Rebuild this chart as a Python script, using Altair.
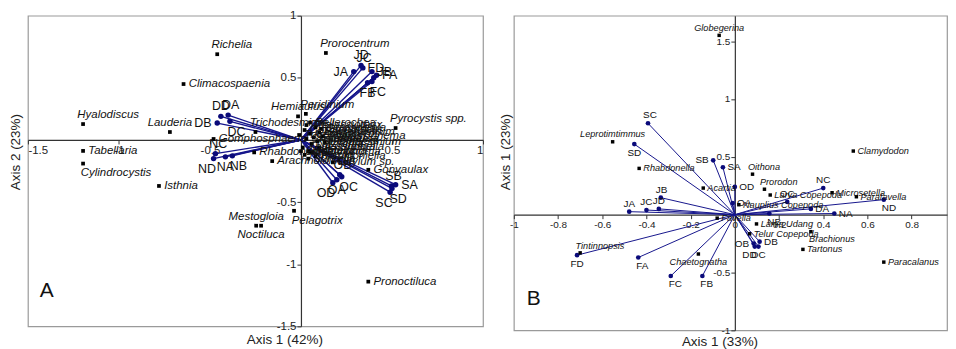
import altair as alt
import pandas as pd

FONT = "Liberation Sans, Arial, Helvetica, sans-serif"
NAVY = "#16168c"
AXC = "#333333"

# ---------------- Panel A : species (x, y, label side) ----------------
a_sp_name = ["Richelia", "Climacospaenia", "Hyalodiscus", "Lauderia", "Tabellaria",
             "Cylindrocystis", "Isthnia", "Mestogloia", "Noctiluca", "Pelagotrix",
             "Pronoctiluca", "Prorocentrum", "Pyrocystis spp.", "Gonyaulax", "Ditylum sp.",
             "Hemiaulus", "Peridinium", "Trichodesmium", "Gomphosphaeria", "Rhabdonema",
             "Arachnoidiscus",
             "Coscinodiscus", "Chaetoceros", "Skeletonema", "Nitzschia", "Thalassiosira",
             "Biddulphia", "Rhizosolenia", "Bacteriastrum", "Ceratium", "Dinophysis",
             "Navicula", "Pleurosigma", "Guinardia", "Thalassionema", "Thalassiothrix",
             "Asterionella", "Triceratium", "Bellerochea", "Lithodesmium", "Odontella",
             "Planktoniella", "Surirella"]
a_sp_x = [-0.46, -0.645, -1.197, -0.72, -1.197, -1.197, -0.78, -0.246, -0.219, -0.038,
          0.37, 0.137, 0.52, 0.37, 0.175, -0.016, 0.027, -0.25, -0.48, -0.257, -0.158,
          0.02, 0.05, 0.03, 0.06, 0.01, 0.04, 0.08, 0.10, 0.07, 0.09, 0.02, 0.06, 0.11,
          0.12, 0.03, 0.10, -0.01, 0.05, 0.13, 0.00, 0.08, 0.04]
a_sp_y = [0.69, 0.45, 0.128, 0.064, -0.088, -0.19, -0.37, -0.69, -0.69, -0.57,
          -1.14, 0.70, 0.096, -0.24, -0.18, 0.19, 0.21, 0.064, 0.008, -0.10, -0.17,
          0.08, 0.05, 0.01, -0.03, -0.06, -0.09, 0.10, 0.06, 0.02, -0.01, -0.12, -0.10, 0.09,
          0.03, 0.12, -0.06, 0.04, 0.14, -0.02, -0.09, -0.13, -0.15]
a_sp_pos = ["ar", "r", "ar", "a", "r", "br", "r", "a", "b", "br", "r", "ar", "ar", "r", "r",
            "a", "ar", "ar", "r", "r", "r"] + ["r"] * 22

# ---------------- Panel A : sites ----------------
a_site_name = ["JA", "JD", "JC", "JB", "FA", "FD", "FB", "FC",
               "DD", "DA", "DB", "DC", "NC", "ND", "NA", "NB",
               "OD", "OA", "OC", "OB", "SB", "SA", "SD", "SC"]
a_site_x = [0.29, 0.33, 0.34, 0.39, 0.415, 0.40, 0.366, 0.39,
            -0.44, -0.40, -0.46, -0.39, -0.47, -0.48, -0.415, -0.377,
            0.175, 0.197, 0.224, 0.213, 0.497, 0.52, 0.50, 0.49]
a_site_y = [0.55, 0.60, 0.58, 0.55, 0.52, 0.50, 0.46, 0.47,
            0.19, 0.20, 0.136, 0.15, -0.11, -0.15, -0.136, -0.128,
            -0.344, -0.32, -0.296, -0.28, -0.37, -0.36, -0.39, -0.42]
a_site_pos = ["l", "a", "ar", "r", "r", "ar", "b", "br",
              "a", "ar", "l", "br", "ar", "bl", "b", "br",
              "bl", "b", "br", "ar", "ar", "r", "br", "bl"]

a_xticks = [-1.5, -1, -0.5, 0.5, 1]
a_yticks = [-1.5, -1, -0.5, 0.5, 1]

# ---------------- Panel B : species ----------------
b_sp_name = ["Globegerina", "Clamydodon", "Leprotimtimmus", "Rhabdonella", "Acartia",
             "Oithona", "Prorodon", "Larva Copepoda", "Microsetella", "Parafavella",
             "Nauplius Copepoda", "Larva Udang", "Telur Copepoda", "Brachionus", "Tartonus",
             "Paracalanus", "Chaetognatha", "Tintinnopsis", "Favella"]
b_sp_x = [-0.071, 0.536, -0.553, -0.433, -0.143, 0.08, 0.134, 0.16, 0.44, 0.55,
          0.018, 0.098, 0.067, 0.344, 0.308, 0.674, -0.165, -0.70, -0.08]
b_sp_y = [1.55, 0.55, 0.63, 0.40, 0.23, 0.35, 0.22, 0.17, 0.19, 0.155,
          0.086, -0.08, -0.165, -0.147, -0.30, -0.41, -0.34, -0.33, -0.03]
b_sp_pos = ["a", "r", "a", "r", "r", "ar", "ar", "r", "r", "r",
            "r", "r", "r", "br", "r", "r", "b", "ar", "r"]

# ---------------- Panel B : sites ----------------
b_site_name = ["SC", "SD", "SB", "SA", "OD", "OA", "OC", "OB", "DD", "DC", "DB", "DA",
               "NC", "ND", "NA", "NB", "JA", "JC", "JD", "JB", "FD", "FA", "FC", "FB"]
b_site_x = [-0.393, -0.455, -0.098, -0.054, 0.0, -0.01, 0.237, 0.085, 0.09, 0.107, 0.112, 0.344,
            0.40, 0.674, 0.45, 0.156, -0.478, -0.40, -0.344, -0.335, -0.714, -0.437, -0.29, -0.147]
b_site_y = [0.79, 0.61, 0.47, 0.41, 0.24, 0.10, 0.11, -0.25, -0.276, -0.276, -0.233, 0.05,
            0.23, 0.13, 0.01, 0.01, 0.026, 0.04, 0.05, 0.147, -0.35, -0.37, -0.53, -0.53]
b_site_pos = ["ar", "b", "l", "r", "r", "r", "a", "l", "bl", "b", "r", "r",
              "a", "br", "r", "br", "a", "a", "a", "ar", "b", "br", "br", "br"]

b_xticks = [-1, -0.8, -0.6, -0.4, -0.2, 0, 0.2, 0.4, 0.6, 0.8]
b_yticks = [-1, -0.5, 0.5, 1, 1.5]


def placement(fs):
    return {
        "r": ("left", fs * 0.45, 0),
        "l": ("right", -fs * 0.45, 0),
        "a": ("center", 0, -fs * 0.8),
        "b": ("center", 0, fs * 0.85),
        "ar": ("left", -fs * 0.5, -fs * 0.8),
        "al": ("right", fs * 0.5, -fs * 0.8),
        "br": ("left", -fs * 0.2, fs * 0.85),
        "bl": ("right", fs * 0.2, fs * 0.85),
    }


def panel(sp, site, xdom, ydom, w, h, xticks, yticks, fs_sp, fs_site, fs_tick,
          sq, dot, lw, xflush, letter, letter_pos, xtitle, xtitle_pos, ytitle, ytitle_pos):
    yoff = -w * (0 - xdom[0]) / (xdom[1] - xdom[0])
    xoff = -h * (0 - ydom[0]) / (ydom[1] - ydom[0])
    axis_common = dict(title=None, grid=False, domainColor=AXC, tickColor=AXC, tickSize=4,
                       domainWidth=1.2, labelFont=FONT, labelFontSize=fs_tick, labelColor="#222",
                       labelOverlap=False, labelPadding=1, labelExpr="'' + datum.value")
    xs = alt.Scale(domain=xdom, nice=False, zero=False)
    ys = alt.Scale(domain=ydom, nice=False, zero=False)
    xax = alt.Axis(values=xticks, offset=xoff, labelFlush=xflush, **axis_common)
    yax = alt.Axis(values=yticks, offset=yoff, **axis_common)

    def X(f):
        return alt.X(f, type="quantitative", scale=xs, axis=xax)

    def Y(f):
        return alt.Y(f, type="quantitative", scale=ys, axis=yax)

    layers = []
    # vectors
    layers.append(alt.Chart(site).mark_rule(color=NAVY, strokeWidth=lw).encode(
        x=X("ox"), y=Y("oy"), x2="x:Q", y2="y:Q"))
    layers.append(alt.Chart(site).mark_circle(color="#0a0a7a", opacity=1, size=dot).encode(
        x=X("x"), y=Y("y")))
    layers.append(alt.Chart(sp).mark_square(color="#000000", opacity=1, size=sq).encode(
        x=X("x"), y=Y("y")))
    for df, fs, style in ((sp, fs_sp, "italic"), (site, fs_site, "normal")):
        for key, (al, dx, dy) in placement(fs).items():
            sub = df[df["pos"] == key]
            if len(sub) == 0:
                continue
            layers.append(alt.Chart(sub).mark_text(
                align=al, dx=dx, dy=dy, baseline="middle", font=FONT, fontSize=fs,
                fontStyle=style, color="#111111").encode(x=X("x"), y=Y("y"), text="name:N"))
    # panel letter and axis titles
    layers.append(alt.Chart(pd.DataFrame({"t": [letter]})).mark_text(
        font=FONT, fontSize=21, color="#111", baseline="middle", align="center").encode(
        x=alt.value(letter_pos[0]), y=alt.value(letter_pos[1]), text="t:N"))
    layers.append(alt.Chart(pd.DataFrame({"t": [xtitle]})).mark_text(
        font=FONT, fontSize=13.5, color="#222", baseline="middle", align="center").encode(
        x=alt.value(xtitle_pos[0]), y=alt.value(xtitle_pos[1]), text="t:N"))
    layers.append(alt.Chart(pd.DataFrame({"t": [ytitle]})).mark_text(
        font=FONT, fontSize=13.5, color="#222", baseline="middle", align="center", angle=270).encode(
        x=alt.value(ytitle_pos[0]), y=alt.value(ytitle_pos[1]), text="t:N"))
    return alt.layer(*layers).properties(width=w, height=h)


def make_df(names, xs, ys, pos):
    return pd.DataFrame({"name": names, "x": xs, "y": ys, "pos": pos,
                         "ox": [0.0] * len(names), "oy": [0.0] * len(names)})


spA = make_df(a_sp_name, a_sp_x, a_sp_y, a_sp_pos)
siteA = make_df(a_site_name, a_site_x, a_site_y, a_site_pos)
spB = make_df(b_sp_name, b_sp_x, b_sp_y, b_sp_pos)
siteB = make_df(b_site_name, b_site_x, b_site_y, b_site_pos)

chartA = panel(spA, siteA, [-1.5, 1], [-1.5, 1], 457, 312, a_xticks, a_yticks,
               11.5, 12.5, 11.5, 14, 30, 1.4, True, "A", (19, 277),
               "Axis 1 (42%)", (258, 326), "Axis 2 (23%)", (-12, 137))
chartB = panel(spB, siteB, [-1, 0.96], [-1, 1.72], 435, 316, b_xticks, b_yticks,
               9.2, 10, 10, 12, 22, 1.0, False, "B", (20, 285),
               "Axis 1 (33%)", (207, 328), "Axis 1 (23%)", (-8, 137))

chart = alt.hconcat(chartA, chartB, spacing=13).properties(
    padding={"left": 0, "top": 0, "right": 0, "bottom": 0}
).configure_view(stroke="#9a9a9a", strokeWidth=1.2)

chart.save("out.html", embed_options={"renderer": "svg", "actions": False})
